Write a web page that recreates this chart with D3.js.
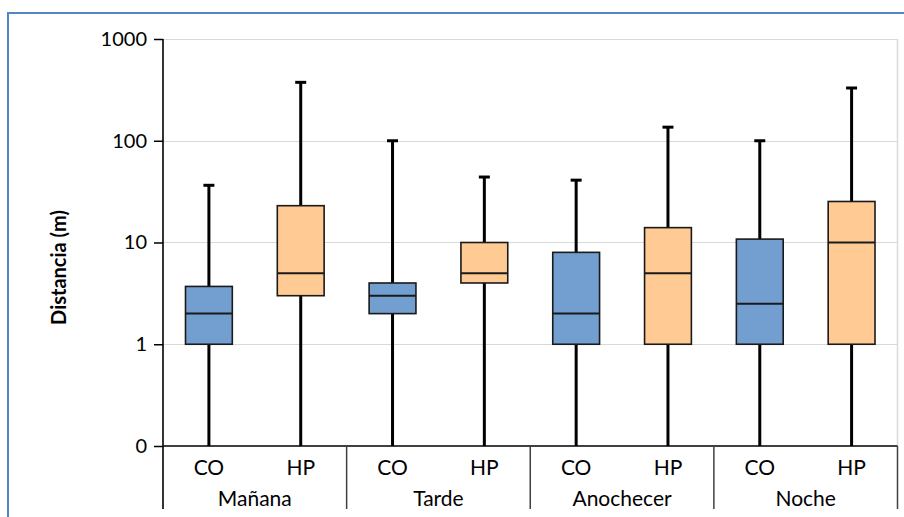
<!DOCTYPE html>
<html lang="es">
<head>
<meta charset="utf-8">
<title>Distancia por periodo</title>
<script src="https://d3js.org/d3.v7.min.js"></script>
<style>
  body { margin: 0; background: #fff; }
  text { font-family: Lato, "Open Sans", sans-serif; fill: #000; }
</style>
</head>
<body>
<script>
// ---- data ----
var groups = ["Mañana", "Tarde", "Anochecer", "Noche"];
var series = ["CO", "HP"];
// one entry per box, order: Mañana CO, Mañana HP, Tarde CO, ...
var whiskerLow  = [0.1, 0.1, 0.1, 0.1, 0.1, 0.1, 0.1, 0.1];
var q1          = [1, 3, 2, 4, 1, 1, 1, 1];
var median      = [2, 5, 3, 5, 2, 5, 2.5, 10];
var q3          = [3.7, 23, 4, 10, 8, 14, 10.8, 25.3];
var whiskerHigh = [36.5, 375, 100, 44, 41, 136, 100, 330];
var yTicks = [0.1, 1, 10, 100, 1000];

var colors = { CO: "#729fcf", HP: "#ffca94" };

var w = 904, h = 517;
var plotL = 163, plotR = 897.5, plotT = 39, plotB = 446;

var svg = d3.select("body").append("svg")
  .attr("width", w).attr("height", h);

// outer blue frame
svg.append("path")
  .attr("d", "M8," + h + " L8,13 L" + w + ",13")
  .attr("fill", "none").attr("stroke", "#5485c4").attr("stroke-width", 2);

var y = d3.scaleLog().domain([0.1, 1000]).range([plotB, plotT]);
var xGroup = d3.scaleBand().domain(groups).range([plotL, plotR]);
var xSeries = d3.scaleBand().domain(series).range([0, xGroup.bandwidth()]);

// boxes table
var boxes = [];
groups.forEach(function(g, gi) {
  series.forEach(function(s, si) {
    var i = gi * series.length + si;
    boxes.push({ group: g, series: s, lo: whiskerLow[i], q1: q1[i], med: median[i], q3: q3[i], hi: whiskerHigh[i] });
  });
});

// gridlines
svg.append("g").selectAll("line")
  .data(yTicks.filter(function(t) { return t > 0.1; }))
  .enter().append("line")
  .attr("x1", plotL).attr("x2", plotR)
  .attr("y1", function(d) { return Math.round(y(d)) + 0.5; })
  .attr("y2", function(d) { return Math.round(y(d)) + 0.5; })
  .attr("stroke", "#d9d9d9").attr("stroke-width", 1);

// plot area right border
svg.append("line")
  .attr("x1", plotR).attr("x2", plotR).attr("y1", plotT).attr("y2", plotB)
  .attr("stroke", "#d9d9d9").attr("stroke-width", 1.5);

// whiskers
var cx = function(d) { return xGroup(d.group) + xSeries(d.series) + xSeries.bandwidth() / 2; };
var bw = xSeries.bandwidth() * 0.51;
var capW = 11;

var bx = svg.append("g").selectAll("g").data(boxes).enter().append("g");

bx.append("line")
  .attr("x1", cx).attr("x2", cx)
  .attr("y1", function(d) { return y(d.hi); })
  .attr("y2", function(d) { return y(d.lo); })
  .attr("stroke", "#000").attr("stroke-width", 3);

bx.append("line")
  .attr("x1", function(d) { return cx(d) - capW / 2; })
  .attr("x2", function(d) { return cx(d) + capW / 2; })
  .attr("y1", function(d) { return y(d.hi); })
  .attr("y2", function(d) { return y(d.hi); })
  .attr("stroke", "#000").attr("stroke-width", 3);

bx.append("rect")
  .attr("x", function(d) { return cx(d) - bw / 2; })
  .attr("width", bw)
  .attr("y", function(d) { return y(d.q3); })
  .attr("height", function(d) { return y(d.q1) - y(d.q3); })
  .attr("fill", function(d) { return colors[d.series]; })
  .attr("stroke", "#1a1a1a").attr("stroke-width", 1.6);

bx.append("line")
  .attr("x1", function(d) { return cx(d) - bw / 2; })
  .attr("x2", function(d) { return cx(d) + bw / 2; })
  .attr("y1", function(d) { return y(d.med); })
  .attr("y2", function(d) { return y(d.med); })
  .attr("stroke", "#1a1a1a").attr("stroke-width", 2);

// y axis
var yAxis = d3.axisLeft(y)
  .tickValues(yTicks)
  .tickSize(9)
  .tickPadding(7)
  .tickFormat(function(d) { return d < 1 ? "0" : d3.format("d")(d); });

var ya = svg.append("g")
  .attr("transform", "translate(" + plotL + ",0)")
  .call(yAxis);
ya.select(".domain").remove();
ya.selectAll("line").attr("stroke", "#000").attr("stroke-width", 1.5);
ya.selectAll("text").attr("font-size", 20).attr("font-family", "Lato, sans-serif");

// axis lines
svg.append("line")
  .attr("x1", plotL).attr("x2", plotL).attr("y1", plotT).attr("y2", 509)
  .attr("stroke", "#000").attr("stroke-width", 1.6);
svg.append("line")
  .attr("x1", plotL).attr("x2", plotR).attr("y1", plotB).attr("y2", plotB)
  .attr("stroke", "#000").attr("stroke-width", 1.6);

// group separators below axis
svg.append("g").selectAll("line")
  .data(groups.slice(1).map(function(g) { return xGroup(g); }).concat([plotR]))
  .enter().append("line")
  .attr("x1", function(d) { return d; }).attr("x2", function(d) { return d; })
  .attr("y1", plotB).attr("y2", 509)
  .attr("stroke", "#404040").attr("stroke-width", 1.5);

// category labels
svg.append("g").selectAll("text").data(boxes).enter().append("text")
  .attr("x", cx).attr("y", 475)
  .attr("text-anchor", "middle").attr("font-size", 21)
  .text(function(d) { return d.series; });

svg.append("g").selectAll("text").data(groups).enter().append("text")
  .attr("x", function(d) { return xGroup(d) + xGroup.bandwidth() / 2; })
  .attr("y", 506)
  .attr("text-anchor", "middle").attr("font-size", 21)
  .text(function(d) { return d; });

// y title
svg.append("text")
  .attr("transform", "translate(66," + ((plotT + plotB) / 2 + 25) + ") rotate(-90)")
  .attr("text-anchor", "middle")
  .attr("font-size", 20).attr("font-weight", "bold")
  .text("Distancia (m)");
</script>
</body>
</html>
